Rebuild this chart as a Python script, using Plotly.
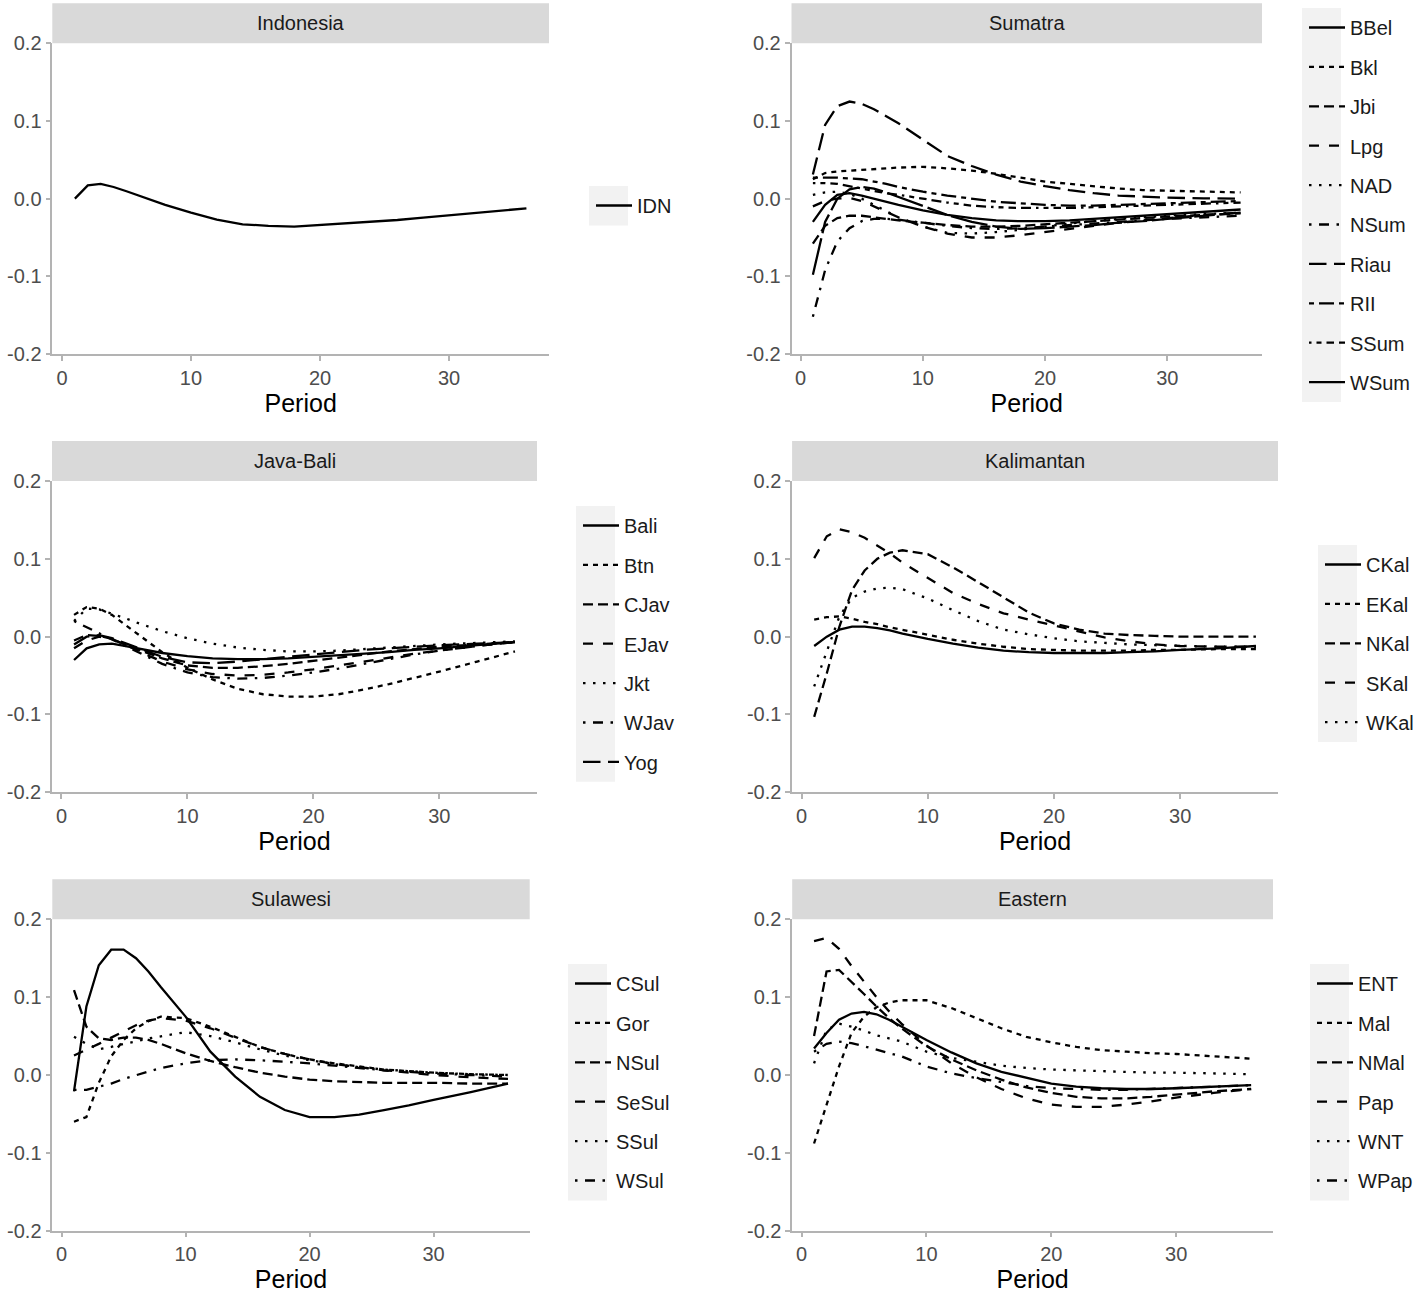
import plotly.graph_objects as go

W, H = 1416, 1294

PERIOD = [1, 2, 3, 4, 5, 6, 7, 8, 10, 12, 14, 16, 18, 20, 22, 24, 26, 28, 30, 33, 36]

INDONESIA = {
    "IDN": [0.000, 0.017, 0.019, 0.015, 0.0095, 0.0035, -0.003, -0.008, -0.018, -0.027, -0.033,
            -0.035, -0.036, -0.034, -0.032, -0.030, -0.0275, -0.0245, -0.0215, -0.017, -0.0125],
}

SUMATRA = {
    "BBel": [-0.030, -0.008, 0.005, 0.007, 0.004, 0.000, -0.004, -0.008, -0.015, -0.021, -0.025,
             -0.028, -0.029, -0.029, -0.028, -0.026, -0.024, -0.022, -0.020, -0.017, -0.014],
    "Bkl": [0.025, 0.033, 0.035, 0.036, 0.037, 0.038, 0.039, 0.040, 0.041, 0.039, 0.036,
            0.032, 0.027, 0.022, 0.019, 0.016, 0.013, 0.011, 0.010, 0.009, 0.008],
    "Jbi": [-0.058, -0.035, -0.025, -0.022, -0.022, -0.024, -0.026, -0.028, -0.031, -0.034, -0.036,
            -0.036, -0.035, -0.033, -0.031, -0.029, -0.027, -0.025, -0.023, -0.021, -0.019],
    "Lpg": [-0.010, -0.003, 0.000, 0.001, -0.003, -0.010, -0.017, -0.024, -0.036, -0.045, -0.050,
            -0.050, -0.047, -0.043, -0.039, -0.035, -0.031, -0.028, -0.025, -0.021, -0.018],
    "NAD": [0.005, 0.008, 0.009, 0.006, 0.000, -0.008, -0.016, -0.024, -0.036, -0.044, -0.045,
            -0.043, -0.040, -0.036, -0.032, -0.029, -0.026, -0.024, -0.022, -0.020, -0.018],
    "NSum": [-0.152, -0.092, -0.055, -0.038, -0.029, -0.026, -0.026, -0.027, -0.031, -0.035, -0.038,
             -0.039, -0.038, -0.036, -0.034, -0.032, -0.030, -0.028, -0.026, -0.024, -0.022],
    "Riau": [0.031, 0.095, 0.119, 0.125, 0.122, 0.115, 0.106, 0.097, 0.076, 0.055, 0.042,
             0.031, 0.022, 0.016, 0.011, 0.007, 0.004, 0.0026, 0.0013, 0.0004, 0.000],
    "RII": [0.027, 0.027, 0.027, 0.026, 0.025, 0.022, 0.019, 0.015, 0.009, 0.004, 0.000,
            -0.004, -0.006, -0.008, -0.009, -0.009, -0.008, -0.007, -0.006, -0.005, -0.003],
    "SSum": [0.020, 0.020, 0.019, 0.016, 0.013, 0.010, 0.007, 0.005, 0.000, -0.005, -0.009,
             -0.011, -0.012, -0.012, -0.012, -0.011, -0.010, -0.009, -0.008, -0.007, -0.005],
    "WSum": [-0.098, -0.030, 0.000, 0.012, 0.015, 0.013, 0.008, 0.002, -0.010, -0.021, -0.030,
             -0.036, -0.039, -0.038, -0.036, -0.034, -0.031, -0.029, -0.026, -0.022, -0.018],
}

JAVA_BALI = {
    "Bali": [-0.030, -0.015, -0.010, -0.009, -0.012, -0.015, -0.018, -0.021, -0.025, -0.028, -0.029,
             -0.029, -0.028, -0.026, -0.024, -0.022, -0.020, -0.017, -0.015, -0.011, -0.007],
    "Btn": [0.028, 0.038, 0.036, 0.028, 0.016, 0.004, -0.008, -0.020, -0.040, -0.055, -0.067,
            -0.074, -0.077, -0.077, -0.074, -0.068, -0.061, -0.053, -0.045, -0.032, -0.019],
    "CJav": [-0.005, 0.002, 0.001, -0.003, -0.010, -0.016, -0.022, -0.028, -0.037, -0.040, -0.040,
             -0.038, -0.035, -0.031, -0.027, -0.023, -0.019, -0.016, -0.013, -0.010, -0.007],
    "EJav": [-0.015, -0.005, 0.000, -0.003, -0.010, -0.018, -0.025, -0.032, -0.042, -0.048, -0.050,
             -0.049, -0.046, -0.042, -0.037, -0.032, -0.027, -0.022, -0.018, -0.012, -0.007],
    "Jkt": [0.020, 0.036, 0.035, 0.030, 0.024, 0.018, 0.012, 0.007, -0.002, -0.009, -0.014,
            -0.017, -0.019, -0.019, -0.018, -0.016, -0.014, -0.012, -0.010, -0.008, -0.006],
    "WJav": [0.020, 0.012, 0.005, -0.003, -0.012, -0.020, -0.028, -0.035, -0.046, -0.052, -0.054,
             -0.053, -0.050, -0.046, -0.041, -0.035, -0.029, -0.023, -0.018, -0.012, -0.007],
    "Yog": [-0.010, 0.000, 0.002, -0.002, -0.008, -0.014, -0.020, -0.026, -0.033, -0.034, -0.032,
            -0.029, -0.026, -0.023, -0.020, -0.017, -0.015, -0.013, -0.011, -0.009, -0.007],
}

KALIMANTAN = {
    "CKal": [-0.012, 0.000, 0.009, 0.013, 0.013, 0.011, 0.008, 0.004, -0.003, -0.009, -0.014,
             -0.018, -0.020, -0.021, -0.021, -0.021, -0.020, -0.019, -0.017, -0.015, -0.012],
    "EKal": [0.022, 0.025, 0.026, 0.023, 0.019, 0.016, 0.012, 0.009, 0.002, -0.004, -0.009,
             -0.013, -0.016, -0.017, -0.018, -0.018, -0.018, -0.017, -0.017, -0.016, -0.016],
    "NKal": [-0.103, -0.047, 0.013, 0.060, 0.085, 0.100, 0.108, 0.111, 0.106, 0.089, 0.070,
             0.050, 0.031, 0.017, 0.009, 0.004, 0.002, 0.001, 0.000, 0.000, 0.000],
    "SKal": [0.101, 0.129, 0.138, 0.134, 0.127, 0.117, 0.107, 0.095, 0.075, 0.056, 0.042,
             0.030, 0.022, 0.014, 0.006, -0.001, -0.006, -0.010, -0.012, -0.013, -0.013],
    "WKal": [-0.064, -0.020, 0.026, 0.050, 0.058, 0.062, 0.063, 0.061, 0.049, 0.034, 0.020,
             0.009, 0.003, -0.002, -0.006, -0.008, -0.010, -0.011, -0.012, -0.013, -0.013],
}

SULAWESI = {
    "CSul": [-0.021, 0.088, 0.141, 0.161, 0.161, 0.150, 0.133, 0.113, 0.075, 0.030, -0.002,
             -0.028, -0.045, -0.054, -0.054, -0.051, -0.045, -0.039, -0.032, -0.022, -0.011],
    "Gor": [-0.060, -0.054, -0.010, 0.024, 0.045, 0.060, 0.069, 0.075, 0.073, 0.062, 0.049,
            0.036, 0.027, 0.020, 0.015, 0.011, 0.007, 0.005, 0.003, 0.001, 0.000],
    "NSul": [0.109, 0.062, 0.047, 0.045, 0.048, 0.048, 0.045, 0.040, 0.028, 0.018, 0.010,
             0.003, -0.002, -0.006, -0.008, -0.009, -0.010, -0.010, -0.010, -0.011, -0.011],
    "SeSul": [0.025, 0.032, 0.040, 0.048, 0.056, 0.064, 0.070, 0.073, 0.070, 0.060, 0.048,
              0.036, 0.027, 0.020, 0.014, 0.010, 0.006, 0.003, 0.000, -0.003, -0.005],
    "SSul": [0.049, 0.040, 0.033, 0.036, 0.040, 0.043, 0.047, 0.050, 0.055, 0.050, 0.042,
             0.033, 0.025, 0.019, 0.014, 0.010, 0.007, 0.005, 0.003, 0.001, 0.000],
    "WSul": [-0.019, -0.019, -0.015, -0.011, -0.005, 0.000, 0.005, 0.009, 0.015, 0.019, 0.020,
             0.019, 0.017, 0.015, 0.012, 0.009, 0.006, 0.004, 0.002, 0.000, -0.002],
}

EASTERN = {
    "ENT": [0.034, 0.054, 0.071, 0.079, 0.081, 0.078, 0.071, 0.062, 0.045, 0.029, 0.015,
            0.004, -0.004, -0.011, -0.015, -0.017, -0.018, -0.018, -0.017, -0.015, -0.013],
    "Mal": [-0.088, -0.040, 0.011, 0.054, 0.075, 0.087, 0.093, 0.096, 0.096, 0.086, 0.073,
            0.060, 0.049, 0.042, 0.036, 0.032, 0.030, 0.028, 0.027, 0.024, 0.021],
    "NMal": [0.050, 0.133, 0.135, 0.120, 0.104, 0.088, 0.073, 0.060, 0.037, 0.020, 0.006,
             -0.006, -0.016, -0.023, -0.028, -0.030, -0.030, -0.028, -0.025, -0.021, -0.018],
    "Pap": [0.172, 0.176, 0.162, 0.140, 0.120, 0.100, 0.082, 0.066, 0.038, 0.015, -0.003,
            -0.018, -0.030, -0.038, -0.041, -0.041, -0.038, -0.034, -0.029, -0.023, -0.018],
    "WNT": [0.015, 0.058, 0.066, 0.062, 0.057, 0.051, 0.047, 0.043, 0.030, 0.022, 0.017,
            0.012, 0.009, 0.007, 0.006, 0.005, 0.004, 0.003, 0.003, 0.002, 0.001],
    "WPap": [0.030, 0.040, 0.043, 0.041, 0.037, 0.032, 0.028, 0.024, 0.011, 0.002, -0.004,
             -0.009, -0.014, -0.017, -0.018, -0.019, -0.019, -0.018, -0.017, -0.015, -0.013],
}

X_TICKS = [0, 10, 20, 30]
X_TICK_TEXT = ["0", "10", "20", "30"]
Y_TICKS = [-0.2, -0.1, 0.0, 0.1, 0.2]
Y_TICK_TEXT = ["-0.2", "-0.1", "0.0", "0.1", "0.2"]

# ggplot2 default linetype sequence, unit ~2.5px
U = 2.5
def dash(code):
    if code == "solid":
        return "solid"
    return ",".join(f"{int(c, 16) * U}px" for c in code)

LINETYPES = ["solid", "22", "42", "44", "13", "1343", "73", "2262", "12223242", "F282"]

# panel layout (window pixels): title, data, plot (left, right, top, bottom), key box (left, top)
PANELS = [
    ("Indonesia", INDONESIA, (52.3, 549.0, 43.3, 354.0), (589, 186)),
    ("Sumatra", SUMATRA, (791.5, 1262.0, 43.3, 354.0), (1302, 8)),
    ("Java-Bali", JAVA_BALI, (52.0, 537.0, 481.0, 792.3), (576, 506)),
    ("Kalimantan", KALIMANTAN, (792.1, 1278.0, 481.0, 792.3), (1318, 545)),
    ("Sulawesi", SULAWESI, (52.3, 529.7, 919.3, 1230.7), (568, 964)),
    ("Eastern", EASTERN, (792.2, 1273.0, 919.3, 1230.7), (1310, 964)),
]

KEY_W, KEY_H = 39, 39.4
AXIS_GREY = "#b3b3b3"
FONT = "Liberation Sans, Arial, sans-serif"

def fx(px):
    return px / W

def fy(px):
    return 1 - px / H

fig = go.Figure()
layout = dict(
    width=W, height=H, margin=dict(l=0, r=0, t=0, b=0, autoexpand=False),
    paper_bgcolor="white", plot_bgcolor="white",
    font=dict(family=FONT, color="#1a1a1a"),
    shapes=[], annotations=[],
)

for i, (title, data, (l, r, t, b), (kx, ky)) in enumerate(PANELS, start=1):
    sfx = "" if i == 1 else str(i)
    xa, ya = f"x{sfx}", f"y{sfx}"
    leg = "legend" if i == 1 else f"legend{i}"
    for j, (name, vals) in enumerate(data.items()):
        fig.add_trace(go.Scatter(
            x=PERIOD, y=vals, mode="lines", name=name,
            line=dict(color="black", width=2.3, dash=dash(LINETYPES[j])),
            xaxis=xa, yaxis=ya, legend=leg, legendgroup=f"{title}-{name}",
            showlegend=True,
        ))
    ph = b - t
    layout[f"xaxis{sfx}"] = dict(
        domain=[fx(l), fx(r)], range=[-0.75, 37.75], anchor=ya,
        tickvals=X_TICKS, ticktext=X_TICK_TEXT, showgrid=False, zeroline=False,
        showline=True, linecolor=AXIS_GREY, linewidth=1.5,
        ticks="outside", ticklen=5, tickwidth=1.5, tickcolor=AXIS_GREY,
        tickfont=dict(size=20, color="#4d4d4d"),
        title=dict(text="Period", font=dict(size=25, color="black"), standoff=6),
    )
    layout[f"yaxis{sfx}"] = dict(
        domain=[fy(b), fy(t)], range=[-0.2, 0.2], anchor=xa,
        tickvals=Y_TICKS, ticktext=Y_TICK_TEXT, showgrid=False, zeroline=False,
        showline=True, linecolor=AXIS_GREY, linewidth=1.5,
        ticks="outside", ticklen=5, tickwidth=1.5, tickcolor=AXIS_GREY,
        tickfont=dict(size=20, color="#4d4d4d"),
    )
    # facet strip
    layout["shapes"].append(dict(
        type="rect", xref=f"{xa} domain", yref=f"{ya} domain",
        x0=0, x1=1, y0=1, y1=1 + 40 / ph, fillcolor="#d9d9d9", line=dict(width=0),
        layer="below",
    ))
    layout["annotations"].append(dict(
        text=title, xref=f"{xa} domain", yref=f"{ya} domain", x=0.5, y=1 + 20 / ph,
        xanchor="center", yanchor="middle", showarrow=False,
        font=dict(size=20, color="#1a1a1a"),
    ))
    # legend key background column
    n = len(data)
    layout["shapes"].append(dict(
        type="rect", xref="paper", yref="paper",
        x0=fx(kx), x1=fx(kx + KEY_W), y0=fy(ky + n * KEY_H), y1=fy(ky),
        fillcolor="#f2f2f2", line=dict(width=0), layer="below",
    ))
    layout[leg] = dict(
        x=fx(kx + 2), y=fy(ky), xanchor="left", yanchor="top",
        bgcolor="rgba(0,0,0,0)", borderwidth=0,
        font=dict(size=20, color="#1a1a1a", family=FONT),
        traceorder="grouped", tracegroupgap=10.4, itemwidth=36,
    )

fig.update_layout(**layout)
# remove the default 8px page margin so the figure fills the window exactly
fig.write_html("out.html", config={"displayModeBar": False},
               post_script="document.body.style.margin='0';")
